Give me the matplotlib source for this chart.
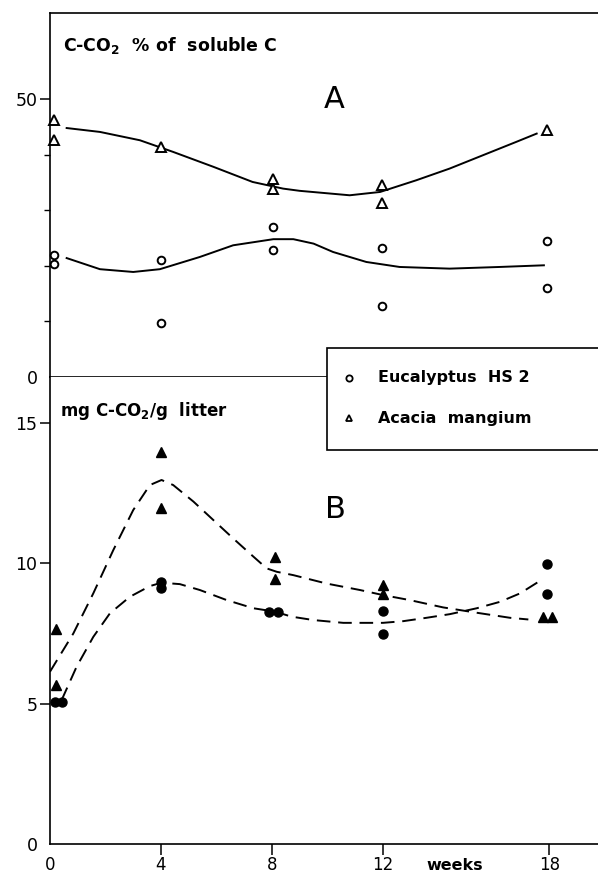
""" Litter incubation: C-CO2 release, Eucalyptus vs Acacia. """

import matplotlib
matplotlib.use("Agg")
import matplotlib.pyplot as plt
from matplotlib.patches import Rectangle
from matplotlib.lines import Line2D

# panel A - C-CO2 as % of soluble C (open symbols, solid curves)
euc_a_weeks = [0.15, 0.15, 4.0, 4.0, 8.05, 8.05, 11.95, 11.95, 17.9, 17.9]
euc_a_vals = [21.9, 20.4, 21.0, 9.7, 27.0, 22.8, 23.3, 12.8, 24.5, 16.1]
aca_a_weeks = [0.15, 0.15, 4.0, 8.05, 8.05, 11.95, 11.95, 17.9]
aca_a_vals = [46.2, 42.6, 41.4, 35.7, 33.8, 34.5, 31.4, 44.5]

euc_a_curve_weeks = [0.6, 1.8, 3.0, 3.96, 5.4, 6.6, 8.05, 8.77, 9.5, 10.2, 11.4, 12.6, 14.4, 16.2, 17.8]
euc_a_curve_vals = [21.4, 19.4, 18.9, 19.4, 21.6, 23.7, 24.8, 24.8, 24.0, 22.5, 20.7, 19.8, 19.5, 19.8, 20.1]
aca_a_curve_weeks = [0.6, 1.8, 3.24, 4.44, 5.9, 7.3, 8.4, 9.0, 10.8, 11.9, 13.2, 14.4, 15.6, 16.8, 17.54]
aca_a_curve_vals = [44.8, 44.1, 42.6, 40.5, 37.8, 35.1, 33.9, 33.5, 32.7, 33.3, 35.4, 37.5, 39.9, 42.3, 43.8]

# panel B - mg C-CO2 / g litter (filled symbols, dashed curves)
euc_b_weeks = [0.18, 0.42, 4.0, 4.0, 7.9, 8.2, 12.0, 12.0, 17.9, 17.9]
euc_b_vals = [5.07, 5.07, 9.35, 9.11, 8.28, 8.28, 8.3, 7.47, 9.98, 8.9]
aca_b_weeks = [0.22, 0.22, 4.0, 4.0, 8.1, 8.1, 12.0, 12.0, 17.75, 18.1]
aca_b_vals = [7.65, 5.66, 13.98, 11.96, 10.24, 9.43, 9.23, 8.9, 8.1, 8.1]

euc_b_curve_weeks = [0.42, 0.96, 1.56, 2.16, 2.88, 3.6, 4.02, 4.68, 5.4, 6.37, 7.33, 8.1, 8.71,
                     9.49, 10.57, 12.0, 12.73, 13.57, 14.41, 15.38, 16.22, 16.94, 17.6]
euc_b_curve_vals = [5.13, 6.32, 7.38, 8.22, 8.81, 9.19, 9.31, 9.26, 9.05, 8.69, 8.4, 8.28, 8.1,
                    7.98, 7.88, 7.88, 7.94, 8.06, 8.19, 8.4, 8.63, 8.93, 9.34]
aca_b_curve_weeks = [0.0, 0.84, 1.56, 2.28, 3.0, 3.6, 4.02, 4.44, 5.17, 5.89, 6.6, 7.33, 7.81, 8.17,
                     8.77, 9.97, 11.17, 12.0, 12.97, 14.17, 15.38, 16.58, 17.24]
aca_b_curve_vals = [6.14, 7.5, 8.93, 10.47, 11.9, 12.79, 12.97, 12.79, 12.2, 11.54, 10.89, 10.24, 9.82, 9.7,
                    9.58, 9.28, 9.05, 8.87, 8.69, 8.43, 8.24, 8.06, 8.0]

x_ticks = [0, 4, 8, 12, 18]
legend_labels = ["Eucalyptus  HS 2", "Acacia  mangium"]


def style_axis(ax):
    for side in ["top", "bottom", "left", "right"]:
        ax.spines[side].set_linewidth(1.2)
    ax.spines["right"].set_visible(False)
    ax.tick_params(which="major", direction="out", length=7, width=1.1, labelsize=12.5, pad=2)
    ax.tick_params(which="minor", direction="out", length=4, width=1.0)


def hide_zero_tick(axis):
    # the zero labels sit on the axis corner without a tick mark
    axis.get_major_ticks()[0].tick1line.set_visible(False)


def main(output_file):
    plt.rcParams["font.family"] = ["DejaVu Sans"]

    fig = plt.figure(figsize=(5.98, 8.76), dpi=100)
    ax_a = fig.add_axes([50 / 598, 1 - 377 / 876, 548 / 598, 364 / 876])
    ax_b = fig.add_axes([50 / 598, 1 - 844 / 876, 548 / 598, 467 / 876])

    # --- A
    ax_a.plot(euc_a_curve_weeks, euc_a_curve_vals, color="black", lw=1.4, zorder=2)
    ax_a.plot(aca_a_curve_weeks, aca_a_curve_vals, color="black", lw=1.4, zorder=2)
    ax_a.plot(euc_a_weeks, euc_a_vals, ls="none", marker="o", ms=5.5, mfc="white",
              mec="black", mew=1.4, clip_on=False, zorder=3)
    ax_a.plot(aca_a_weeks, aca_a_vals, ls="none", marker="^", ms=6.5, mfc="white",
              mec="black", mew=1.4, clip_on=False, zorder=3)

    ax_a.set_xlim(0, 19.75)
    ax_a.set_ylim(0, 65.5)
    ax_a.set_xticks([])
    ax_a.set_yticks([0, 50])
    ax_a.set_yticks([10, 20, 30, 40], minor=True)
    style_axis(ax_a)
    hide_zero_tick(ax_a.yaxis)

    ax_a.text(0.024, 0.912, r"C-CO$_\mathbf{2}$  % of  soluble C", transform=ax_a.transAxes,
              fontsize=12.5, fontweight="bold", va="center", ha="left")
    ax_a.text(10.23, 50.0, "A", fontsize=22, ha="center", va="center")

    # --- B
    ax_b.plot(euc_b_curve_weeks, euc_b_curve_vals, color="black", lw=1.4, dashes=(7, 4), zorder=2)
    ax_b.plot(aca_b_curve_weeks, aca_b_curve_vals, color="black", lw=1.4, dashes=(7, 4), zorder=2)
    ax_b.plot(euc_b_weeks, euc_b_vals, ls="none", marker="o", ms=6.5, color="black",
              clip_on=False, zorder=3)
    ax_b.plot(aca_b_weeks, aca_b_vals, ls="none", marker="^", ms=7.5, color="black",
              clip_on=False, zorder=3)

    ax_b.set_xlim(0, 19.75)
    ax_b.set_ylim(0, 16.64)
    ax_b.set_xticks(x_ticks)
    ax_b.set_yticks([0, 5, 10, 15])
    style_axis(ax_b)
    ax_b.spines["top"].set_visible(False)
    ax_b.tick_params(axis="x", length=8, pad=0.5, labelsize=12)
    hide_zero_tick(ax_b.yaxis)
    hide_zero_tick(ax_b.xaxis)

    ax_b.text(0.018, 0.927, r"mg C-CO$_\mathbf{2}$/g  litter", transform=ax_b.transAxes,
              fontsize=12, fontweight="bold", va="center", ha="left")
    ax_b.text(10.27, 11.93, "B", fontsize=22, ha="center", va="center")
    ax_b.text(14.6, -0.047, "weeks", transform=ax_b.get_xaxis_transform(),
              fontsize=11.5, fontweight="bold", ha="center", va="center")

    # legend box overlapping the two panels, running off the right edge
    box = Rectangle((327 / 598, 1 - 450 / 876), 0.5, 102 / 876, transform=fig.transFigure,
                    facecolor="white", edgecolor="black", lw=1.2, zorder=5)
    fig.add_artist(box)
    for i, (marker, ms) in enumerate([("o", 4.5), ("^", 5.0)]):
        y = 1 - (378 + 40 * i) / 876
        fig.add_artist(Line2D([349 / 598], [y], transform=fig.transFigure, ls="none",
                              marker=marker, ms=ms, mfc="white", mec="black", mew=1.3, zorder=6))
        fig.text(378 / 598, y, legend_labels[i], fontsize=11.5, fontweight="bold",
                 ha="left", va="center", zorder=6)

    plt.savefig(output_file, dpi=100)


if __name__ == "__main__":
    main("out.png")
